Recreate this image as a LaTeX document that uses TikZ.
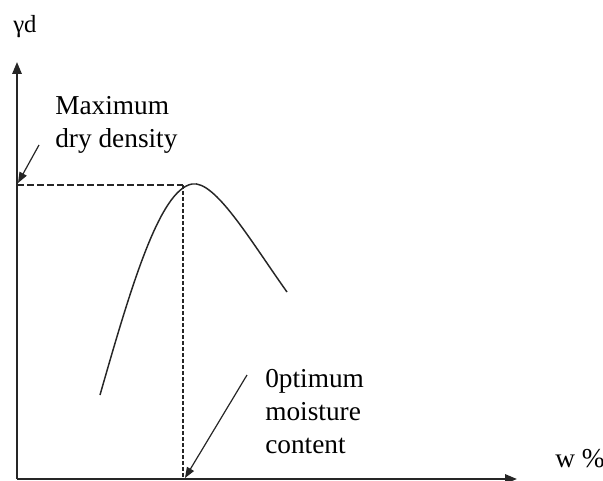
\documentclass[tikz,border=0pt]{standalone}
\usepackage{fontspec}
\setmainfont{Liberation Serif}
\usetikzlibrary{arrows.meta}
\begin{document}
\begin{tikzpicture}[x=0.75pt,y=-0.75pt,
  lbl/.style={inner sep=0pt,anchor=base west,font=\fontsize{20.5}{24.75}\selectfont,align=left},
  axis/.style={line width=1.5pt,draw=black!85,-{Triangle[length=9pt,width=7pt]}},
  pointer/.style={line width=0.9pt,draw=black!85,-{Triangle[length=8pt,width=6pt]}},
  curve/.style={line width=1.1pt,draw=black!85},
  hdash/.style={line width=0.9pt,draw=black!85,dash pattern=on 5pt off 2.5pt},
  vdash/.style={line width=1.5pt,draw=black!85,dash pattern=on 3pt off 1.5pt}]
\useasboundingbox (0,0) rectangle (603,481);
\coordinate (O) at (17,479);
\coordinate (Ytop) at (17,62);
\coordinate (Xend) at (517,479);
\coordinate (Ymax) at (17,185);
\coordinate (Peak) at (183,185);
\coordinate (Wopt) at (183,479);
\coordinate (C0) at (100,395);
\coordinate (Ctop) at (192,184);
\coordinate (C1) at (287,292);
\coordinate (A1s) at (39,145);
\coordinate (A1e) at (18,183);
\coordinate (A2s) at (247,375);
\coordinate (A2e) at (185,478);
% axes
\draw[axis] (O) -- (Ytop);
\draw[axis] (O) -- (Xend);
% labels (base anchor = baseline of last line)
\node[lbl,font=\fontsize{18.5}{20}\selectfont] (yd) at (13,33) {γd};
\node[lbl] (wp) at (555,467) {w \%};
\node[lbl] (mdd) at (55,148) {Maximum\\dry density};
\node[lbl] (omc) at (265,453) {0ptimum\\moisture\\content};
% dashed guides
\draw[hdash] (Ymax) -- (Peak);
\draw[vdash] (Peak) -- (Wopt);
% curve
\draw[curve] (C0) .. controls (132,283) and (160,190) .. (Ctop)
  .. controls (215,180) and (250,240) .. (C1);
% pointers
\draw[pointer] (A1s) -- (A1e);
\draw[pointer] (A2s) -- (A2e);
\end{tikzpicture}
\end{document}
